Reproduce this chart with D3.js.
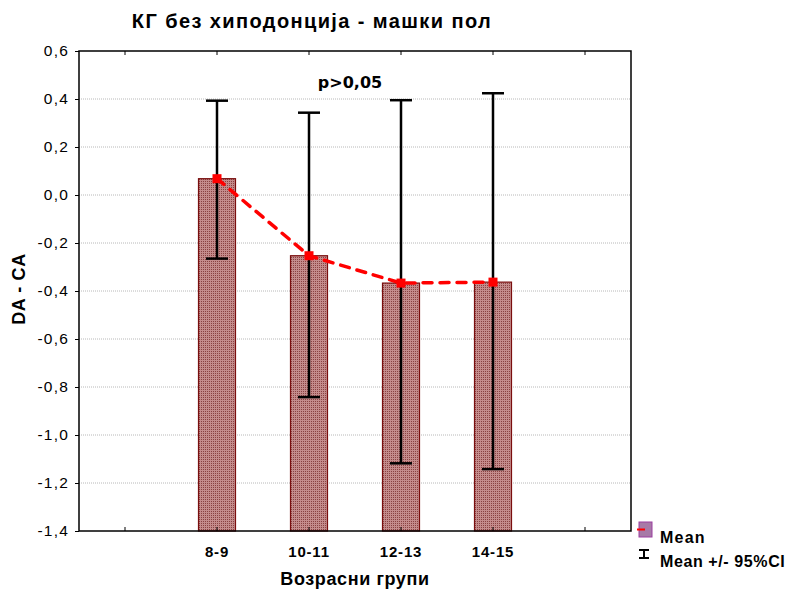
<!DOCTYPE html>
<html>
<head>
<meta charset="utf-8">
<script src="https://cdn.jsdelivr.net/npm/d3@7"></script>
<style>
  body { margin: 0; background: #fff; }
  svg { display: block; }
</style>
</head>
<body>
<svg id="chart" width="791" height="590"></svg>
<script>
// data
const groups = ['8-9', '10-11', '12-13', '14-15']
const means = [0.068, -0.253, -0.367, -0.363]
const ciLow = [-0.265, -0.842, -1.118, -1.142]
const ciHigh = [0.393, 0.343, 0.395, 0.424]
const yTicks = [0.6, 0.4, 0.2, 0.0, -0.2, -0.4, -0.6, -0.8, -1.0, -1.2, -1.4]

const svg = d3.select('#chart')
const margin = { left: 79, top: 51, right: 160, bottom: 59 }
const width = 791 - margin.left - margin.right,
  height = 590 - margin.top - margin.bottom
const font = 'Liberation Sans, Arial, sans-serif'

const locale = d3.formatLocale({ decimal: ',', thousands: '.', grouping: [3], currency: ['', ''], minus: '-' })
const fmt = locale.format('.1f')

// pad with an empty band on each side, like the original
const domain = [' ', ...groups, '  ']
const x = d3.scaleBand().domain(domain).range([0, width])
const y = d3.scaleLinear().domain([-1.4, 0.6]).range([height, 0])

const defs = svg.append('defs')
const pat = defs.append('pattern')
  .attr('id', 'mesh').attr('width', 2).attr('height', 2)
  .attr('patternUnits', 'userSpaceOnUse')
pat.append('rect').attr('width', 2).attr('height', 2).attr('fill', '#c48c8c')
pat.append('rect').attr('width', 1).attr('height', 1).attr('fill', '#8a4242')

const g = svg.append('g').attr('transform', `translate(${margin.left},${margin.top})`)

// grid
g.append('g').selectAll('line')
  .data(yTicks.slice(1, -1))
  .enter().append('line')
  .attr('x1', 0).attr('x2', width)
  .attr('y1', d => y(d)).attr('y2', d => y(d))
  .attr('stroke', '#b8b8b8').attr('stroke-width', 1)
  .attr('stroke-dasharray', '1,1')

// bars
const bw = 37
g.append('g').selectAll('rect')
  .data(groups)
  .enter().append('rect')
  .attr('x', (d) => x(d) + x.bandwidth() / 2 - bw / 2)
  .attr('y', (d, i) => y(means[i]))
  .attr('width', bw)
  .attr('height', (d, i) => y(-1.4) - y(means[i]))
  .attr('fill', 'url(#mesh)')
  .attr('stroke', '#7a0e0e').attr('stroke-width', 1.2)

// mean line
const line = d3.line()
  .x((d, i) => x(groups[i]) + x.bandwidth() / 2)
  .y(d => y(d))
g.append('path')
  .datum(means)
  .attr('d', line)
  .attr('fill', 'none')
  .attr('stroke', '#ff0000').attr('stroke-width', 3.5)
  .attr('stroke-dasharray', '9,8')
  .attr('stroke-linecap', 'round')

// error bars
const eb = g.append('g').attr('stroke', '#000').attr('stroke-width', 2.5)
groups.forEach((grp, i) => {
  const cx = x(grp) + x.bandwidth() / 2
  eb.append('line').attr('x1', cx).attr('x2', cx).attr('y1', y(ciHigh[i])).attr('y2', y(ciLow[i]))
  eb.append('line').attr('x1', cx - 11).attr('x2', cx + 11).attr('y1', y(ciHigh[i])).attr('y2', y(ciHigh[i]))
  eb.append('line').attr('x1', cx - 11).attr('x2', cx + 11).attr('y1', y(ciLow[i])).attr('y2', y(ciLow[i]))
})

// mean markers
g.append('g').selectAll('rect')
  .data(means)
  .enter().append('rect')
  .attr('x', (d, i) => x(groups[i]) + x.bandwidth() / 2 - 4.5)
  .attr('y', d => y(d) - 4.5)
  .attr('width', 9).attr('height', 9)
  .attr('fill', '#ff0000')

// axes
const yAxis = d3.axisLeft(y).tickValues(yTicks).tickFormat(fmt).tickSize(4).tickPadding(6)
const ya = g.append('g').call(yAxis)
ya.select('.domain').remove()
ya.selectAll('text').style('font-family', font).style('font-size', '15.5px')
  .style('letter-spacing', '1.2px').attr('fill', '#000')

const xAxis = d3.axisBottom(x).tickSize(-4).tickPadding(15)
const xa = g.append('g').attr('transform', `translate(0,${height})`).call(xAxis)
xa.select('.domain').remove()
xa.selectAll('text').style('font-family', font)
  .style('font-size', '15px').style('font-weight', 'bold')
  .style('letter-spacing', '0.8px').attr('fill', '#000')

const xTop = g.append('g').call(d3.axisTop(x).tickSize(-4).tickFormat(''))
xTop.select('.domain').remove()

// frame
g.append('rect').attr('width', width).attr('height', height)
  .attr('fill', 'none').attr('stroke', '#000').attr('stroke-width', 1.5)

// texts
svg.append('text')
  .attr('x', 312).attr('y', 28)
  .attr('text-anchor', 'middle')
  .style('font-family', font)
  .style('font-size', '20px').style('font-weight', 'bold')
  .style('letter-spacing', '1.4px')
  .text('КГ без хиподонција - машки пол')

svg.append('text')
  .attr('x', margin.left + width / 2).attr('y', 585)
  .attr('text-anchor', 'middle')
  .style('font-family', font)
  .style('font-size', '18px').style('font-weight', 'bold')
  .style('letter-spacing', '0.6px')
  .text('Возрасни групи')

svg.append('text')
  .attr('transform', `translate(25,${margin.top + height / 2 - 2}) rotate(-90)`)
  .attr('text-anchor', 'middle')
  .style('font-family', font)
  .style('font-size', '18px').style('font-weight', 'bold')
  .style('letter-spacing', '0.6px')
  .text('DA - CA')

svg.append('text')
  .attr('x', 350).attr('y', 88)
  .attr('text-anchor', 'middle')
  .style('font-family', 'DejaVu Sans, sans-serif')
  .style('font-size', '16px').style('font-weight', 'bold')
  .text('p>0,05')

// legend
const lg = svg.append('g').attr('transform', 'translate(639,522)')
lg.append('rect').attr('x', 0).attr('y', 0).attr('width', 13).attr('height', 15)
  .attr('fill', '#a77aa7').attr('stroke', '#9b3fa0').attr('stroke-width', 1)
lg.append('line').attr('x1', -2).attr('x2', 6).attr('y1', 7.5).attr('y2', 7.5)
  .attr('stroke', '#ff0000').attr('stroke-width', 2)
lg.append('text').attr('x', 21).attr('y', 21)
  .style('font-family', font)
  .style('font-size', '16px').style('font-weight', 'bold').style('letter-spacing', '1.2px')
  .text('Mean')
const ei = lg.append('g').attr('stroke', '#000').attr('stroke-width', 2)
ei.append('line').attr('x1', 5).attr('x2', 5).attr('y1', 28).attr('y2', 36)
ei.append('line').attr('x1', 0).attr('x2', 10).attr('y1', 28).attr('y2', 28)
ei.append('line').attr('x1', 0).attr('x2', 10).attr('y1', 36).attr('y2', 36)
lg.append('text').attr('x', 21).attr('y', 45)
  .style('font-family', font)
  .style('font-size', '16px').style('font-weight', 'bold').style('letter-spacing', '0.6px')
  .text('Mean +/- 95%CI')
</script>
</body>
</html>
